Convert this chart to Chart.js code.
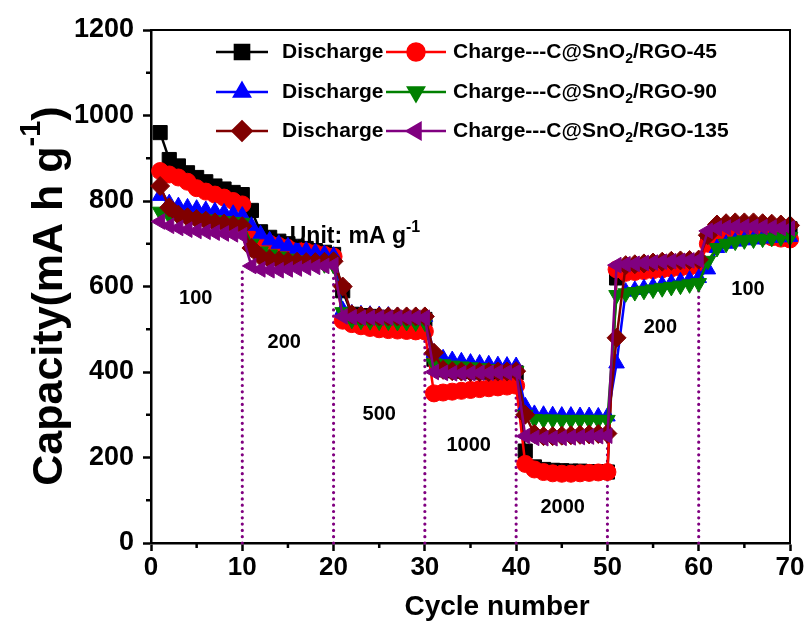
<!DOCTYPE html>
<html><head><meta charset="utf-8">
<script src="https://cdn.jsdelivr.net/npm/chart.js@4/dist/chart.umd.min.js"></script>
<style>html,body{margin:0;padding:0;background:#fff}</style>
</head><body>
<canvas id="c" width="808" height="625"></canvas>
<script>
const cycles = [1,2,3,4,5,6,7,8,9,10,11,12,13,14,15,16,17,18,19,20,21,22,23,24,25,26,27,28,29,30,31,32,33,34,35,36,37,38,39,40,41,42,43,44,45,46,47,48,49,50,51,52,53,54,55,56,57,58,59,60,61,62,63,64,65,66,67,68,69,70];
const discharge45 = [960,897,882,866,855,845,835,828,820,815, 778,728,715,706,700,694,689,684,680,675, 590,535,532,530,528,527,526,525,524,523, 430,405,403,402,401,400,400,399,399,398, 215,178,172,170,169,168,168,167,167,166, 620,640,642,645,647,648,650,652,654,655, 710,730,735,737,738,740,740,738,737,735];
const charge45 = [870,862,855,845,830,822,815,808,800,792, 712,706,700,695,690,686,682,678,674,670, 520,512,507,503,500,498,497,496,495,495, 350,352,354,356,358,360,362,364,366,368, 185,172,166,163,162,162,163,164,165,166, 640,632,634,636,638,640,642,644,646,648, 700,715,720,722,724,722,718,715,712,710];
const discharge90 = [812,795,788,785,782,779,776,773,770,766, 742,722,708,700,694,688,684,680,676,672, 545,537,535,534,533,532,531,530,530,529, 445,432,428,425,422,420,418,416,415,414, 320,302,300,299,298,298,297,297,296,296, 420,588,592,596,600,604,608,612,616,620, 640,690,700,705,708,710,712,714,715,716];
const charge90 = [775,766,763,761,759,757,755,753,751,749, 700,682,675,670,665,661,658,655,652,650, 540,522,520,519,518,518,517,517,516,516, 420,418,415,413,411,409,407,405,403,402, 300,290,289,289,288,288,288,288,288,288, 580,584,587,590,593,596,599,602,605,608, 660,690,700,705,708,710,712,714,715,716];
const discharge135 = [835,785,768,762,758,754,750,747,744,741, 690,670,664,661,659,658,657,657,658,659, 600,535,532,531,530,530,530,530,530,530, 445,405,402,401,400,400,400,401,401,402, 300,255,250,250,251,252,253,254,255,256, 480,650,652,654,656,658,660,661,662,663, 720,745,748,750,750,750,748,747,745,743];
const charge135 = [752,742,737,733,730,728,726,724,722,720, 648,640,638,638,640,642,644,646,648,650, 530,528,527,527,527,527,527,527,527,527, 400,398,397,397,397,398,398,399,399,400, 250,246,245,245,246,247,248,249,250,251, 650,652,653,655,656,658,659,660,661,662, 730,736,738,740,740,740,739,738,737,736];

const stepCycles = [10,20,30,40,50,60];
const stepTops = [640,665,530,400,260,660];
const rateLabels = ['100','200','500','1000','2000','200','100'];
const rateX = [4.9,14.6,25,34.8,45.1,55.8,65.4];
const rateY = [573,468,300,229,82,503,592];
const yTicks = [0,200,400,600,800,1000,1200];
const xTicks = [0,10,20,30,40,50,60,70];
const legendNames = ['Discharge','Charge---C@SnO|2|/RGO-45','Discharge','Charge---C@SnO|2|/RGO-90','Discharge','Charge---C@SnO|2|/RGO-135'];

const FONT = '"Liberation Sans", Arial, sans-serif';
const pts = arr => cycles.map((c,i)=>({x:c,y:arr[i]}));

const series = [
  {data:discharge45, color:'#000000', style:'rect', r:10, rot:0, order:6},
  {data:charge45, color:'#ff0000', style:'circle', r:8.5, rot:0, order:5},
  {data:discharge90, color:'#0000ff', style:'triangle', r:9, rot:0, order:4},
  {data:charge90, color:'#008000', style:'triangle', r:9, rot:180, order:3},
  {data:discharge135, color:'#800000', style:'rectRot', r:9.5, rot:0, order:2},
  {data:charge135, color:'#800080', style:'triangle', r:9, rot:-90, order:1},
];

const datasets = series.map(s=>({
  data: pts(s.data), borderColor:s.color, backgroundColor:s.color, borderWidth:2.5,
  pointStyle:s.style, pointRadius:s.r, pointRotation:s.rot, pointBorderWidth:1,
  pointBorderColor:s.color, pointBackgroundColor:s.color, order:s.order, clip:false, tension:0
}));
stepCycles.forEach((c,i)=>{
  datasets.push({data:[{x:c,y:0},{x:c,y:stepTops[i]}], borderColor:'#800080', borderWidth:3.2,
    borderDash:[0,6.3], borderCapStyle:'round', pointRadius:0, order:10, clip:false});
});

function drawSub(ctx, parts, x, y, size, supMode){
  let cx = x;
  parts.forEach((p,i)=>{
    if(i%2===1){
      ctx.font = `bold ${Math.round(size*0.68)}px ${FONT}`;
      const dy = supMode ? -size*0.42 : size*0.35;
      ctx.fillText(p, cx, y+dy);
    } else {
      ctx.font = `bold ${size}px ${FONT}`;
      ctx.fillText(p, cx, y);
    }
    cx += ctx.measureText(p).width;
  });
  return cx - x;
}
function measureParts(ctx, parts, size){
  let w=0;
  parts.forEach((p,i)=>{
    ctx.font = i%2===1 ? `bold ${Math.round(size*0.68)}px ${FONT}` : `bold ${size}px ${FONT}`;
    w += ctx.measureText(p).width;
  });
  return w;
}

const deco = {
  id:'deco',
  afterDraw(chart){
    const {ctx, chartArea:a, scales:{x,y}} = chart;
    ctx.save();
    ctx.strokeStyle='#000'; ctx.lineWidth=2;
    ctx.beginPath(); ctx.moveTo(a.left, a.top); ctx.lineTo(a.right, a.top); ctx.lineTo(a.right, a.bottom); ctx.stroke();
    ctx.lineWidth=2.5;
    for(let v=100; v<1200; v+=200){ const py=y.getPixelForValue(v); ctx.beginPath(); ctx.moveTo(a.left-5,py); ctx.lineTo(a.left,py); ctx.stroke(); }
    for(let v=5; v<70; v+=10){ const px=x.getPixelForValue(v); ctx.beginPath(); ctx.moveTo(px,a.bottom); ctx.lineTo(px,a.bottom+5); ctx.stroke(); }
    ctx.fillStyle='#000'; ctx.textAlign='center'; ctx.textBaseline='middle';
    ctx.font = `bold 20px ${FONT}`;
    rateLabels.forEach((t,i)=> ctx.fillText(t, x.getPixelForValue(rateX[i]), y.getPixelForValue(rateY[i])));
    ctx.textAlign='left';
    drawSub(ctx, ['Unit: mA g','-1',''], x.getPixelForValue(15.2), y.getPixelForValue(716), 23, true);
    const rowsY=[52,92,131];
    const cols=[{l0:216,l1:268,tx:282},{l0:386,l1:446,tx:453}];
    series.forEach((s,i)=>{
      const row=Math.floor(i/2), col=i%2, c=cols[col], yy=rowsY[row];
      ctx.strokeStyle=s.color; ctx.lineWidth=2.5;
      ctx.beginPath(); ctx.moveTo(c.l0,yy); ctx.lineTo(c.l1,yy); ctx.stroke();
      ctx.fillStyle=s.color;
      Chart.helpers.drawPoint(ctx,{pointStyle:s.style, rotation:s.rot, radius:s.r, borderWidth:1}, (c.l0+c.l1)/2, yy);
      ctx.fill();
      ctx.fillStyle='#000'; ctx.textAlign='left'; ctx.textBaseline='middle';
      drawSub(ctx, legendNames[i].split('|'), c.tx, yy, 21, false);
    });
    ctx.fillStyle='#000'; ctx.textAlign='center'; ctx.textBaseline='middle';
    ctx.font = `bold 28px ${FONT}`;
    ctx.fillText('Cycle number', 497, 607);
    ctx.save();
    ctx.translate(50, 296);
    ctx.rotate(-Math.PI/2);
    ctx.textAlign='left'; ctx.textBaseline='middle';
    const parts=['Capacity(mA h g','-1',')'];
    const w=measureParts(ctx, parts, 43);
    drawSub(ctx, parts, -w/2, 0, 43, true);
    ctx.restore();
    ctx.restore();
  }
};

new Chart(document.getElementById('c'), {
  type:'line',
  data:{datasets},
  options:{
    responsive:false, animation:false,
    layout:{padding:{top:30,right:18,left:0,bottom:0}},
    plugins:{legend:{display:false}, tooltip:{enabled:false}},
    scales:{
      x:{type:'linear', min:0, max:70,
        afterBuildTicks:s=>{s.ticks=xTicks.map(v=>({value:v}));},
        afterFit:s=>{s.height=82;},
        ticks:{color:'#000', font:{family:FONT, size:26, weight:'bold'}, padding:1, maxRotation:0, callback:v=>String(v)},
        grid:{drawOnChartArea:false, tickLength:8, tickWidth:2.5, tickColor:'#000'},
        border:{color:'#000', width:2.5}
      },
      y:{min:0, max:1200,
        afterBuildTicks:s=>{s.ticks=yTicks.map(v=>({value:v}));},
        afterFit:s=>{s.width=151;},
        ticks:{color:'#000', font:{family:FONT, size:27, weight:'bold'}, padding:9, callback:v=>String(v)},
        grid:{drawOnChartArea:false, tickLength:8, tickWidth:2.5, tickColor:'#000'},
        border:{color:'#000', width:2.5}
      }
    }
  },
  plugins:[deco]
});
</script>
</body></html>
